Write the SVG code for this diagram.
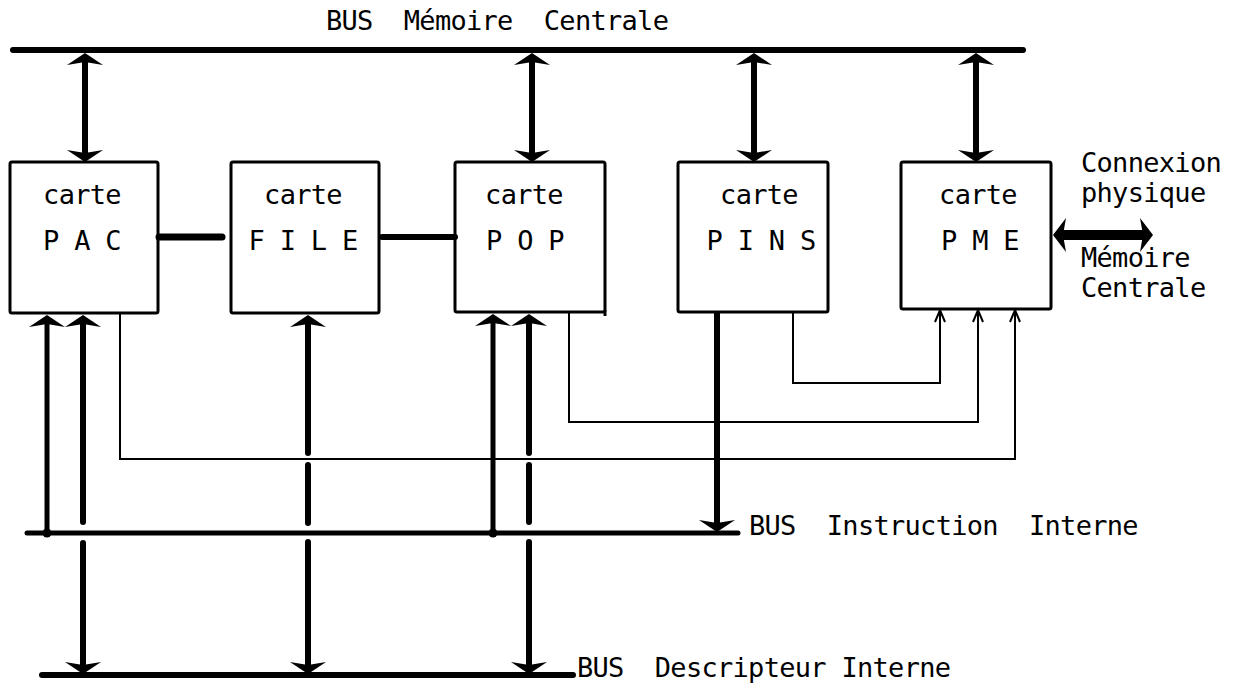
<svg xmlns="http://www.w3.org/2000/svg" xmlns:xlink="http://www.w3.org/1999/xlink" width="1244" height="683" viewBox="0 0 1244 683">
  <style>
    .t { font-family: "DejaVu Sans Mono", "Liberation Mono", monospace; font-size: 27px; letter-spacing: -0.7px; fill: #000; }
    .box { fill: #fff; stroke: #000; stroke-width: 3; }
    .bus { stroke: #000; stroke-width: 6; stroke-linecap: round; fill: none; }
    .thick { stroke: #000; stroke-width: 6; stroke-linecap: round; fill: none; }
    .thin { stroke: #000; stroke-width: 2; fill: none; }
    .head { fill: #000; }
    .chev { stroke: #000; stroke-width: 2; fill: none; stroke-linejoin: miter; }
  </style>
  <defs>
    <!-- wide flat arrowheads, tip at origin -->
    <path id="up" class="head" d="M0,0 L18,12 L0,9 L-18,12 Z"/>
    <path id="down" class="head" d="M0,0 L18,-12 L0,-9 L-18,-12 Z"/>
    <!-- small open arrowhead for the thin control lines -->
    <path id="chevUp" class="chev" d="M-5,12 L0,0 L5,12"/>
  </defs>

  <!-- bus lines and their labels -->
  <g id="bus-memoire">
    <line class="bus" x1="13" y1="50" x2="1023" y2="50"/>
    <text class="t" x="326" y="30" xml:space="preserve">BUS  Mémoire  Centrale</text>
  </g>
  <g id="bus-instruction">
    <line class="bus" x1="27" y1="533" x2="738" y2="533" style="stroke-width:5"/>
    <text class="t" x="749" y="535" xml:space="preserve">BUS  Instruction  Interne</text>
  </g>
  <g id="bus-descripteur">
    <line class="bus" x1="42" y1="675" x2="573" y2="675"/>
    <text class="t" x="577" y="677" xml:space="preserve">BUS  Descripteur Interne</text>
  </g>

  <!-- cards -->
  <g id="carte-pac">
    <rect class="box" x="10" y="162" width="148" height="151" rx="2"/>
    <text class="t" x="82" y="204" text-anchor="middle">carte</text>
    <text class="t" x="82" y="250" text-anchor="middle">P A C</text>
  </g>
  <g id="carte-file">
    <rect class="box" x="231" y="162" width="148" height="151" rx="2"/>
    <text class="t" x="303" y="204" text-anchor="middle">carte</text>
    <text class="t" x="303" y="250" text-anchor="middle">F I L E</text>
  </g>
  <g id="carte-pop">
    <rect class="box" x="455" y="162" width="150" height="150" rx="2"/>
    <line x1="605" y1="310" x2="605" y2="316" stroke="#000" stroke-width="3"/>
    <text class="t" x="524" y="204" text-anchor="middle">carte</text>
    <text class="t" x="525" y="250" text-anchor="middle">P O P</text>
  </g>
  <g id="carte-pins">
    <rect class="box" x="678" y="162" width="150" height="150" rx="2"/>
    <text class="t" x="759" y="204" text-anchor="middle">carte</text>
    <text class="t" x="761" y="250" text-anchor="middle">P I N S</text>
  </g>
  <g id="carte-pme">
    <rect class="box" x="901" y="162" width="150" height="147" rx="2"/>
    <text class="t" x="978" y="204" text-anchor="middle">carte</text>
    <text class="t" x="980" y="250" text-anchor="middle">P M E</text>
  </g>
  <g id="connexion-label">
    <text class="t" x="1081" y="172">Connexion</text>
    <text class="t" x="1081" y="202">physique</text>
    <text class="t" x="1081" y="267">Mémoire</text>
    <text class="t" x="1081" y="297">Centrale</text>
  </g>

  <g id="connectors">
    <!-- memory bus to cards (double arrows) -->
    <line class="thick" x1="85" y1="60" x2="85" y2="154"/>
    <use xlink:href="#up" x="85" y="53"/>
    <use xlink:href="#down" x="85" y="162"/>
    <line class="thick" x1="532" y1="60" x2="532" y2="154"/>
    <use xlink:href="#up" x="532" y="53"/>
    <use xlink:href="#down" x="532" y="162"/>
    <line class="thick" x1="754" y1="60" x2="754" y2="154"/>
    <use xlink:href="#up" x="754" y="53"/>
    <use xlink:href="#down" x="754" y="162"/>
    <line class="thick" x1="976" y1="60" x2="976" y2="154"/>
    <use xlink:href="#up" x="976" y="53"/>
    <use xlink:href="#down" x="976" y="162"/>

    <!-- links between cards -->
    <line class="thick" x1="159" y1="237" x2="222" y2="237" style="stroke-width:7"/>
    <line class="thick" x1="382" y1="237" x2="455" y2="237"/>

    <!-- physical memory link -->
    <line x1="1060" y1="235" x2="1146" y2="235" stroke="#000" stroke-width="10"/>
    <path class="head" d="M1053,235 L1066,218 L1063,235 L1066,252 Z"/>
    <path class="head" d="M1153,235 L1140,218 L1143,235 L1140,252 Z"/>

    <!-- thin control lines to PME -->
    <polyline class="thin" points="120,313 120,459 1015,459 1015,311"/>
    <use xlink:href="#chevUp" x="1015" y="310"/>
    <polyline class="thin" points="569,312 569,422 978,422 978,311"/>
    <use xlink:href="#chevUp" x="978" y="310"/>
    <polyline class="thin" points="793,312 793,383 940,383 940,311"/>
    <use xlink:href="#chevUp" x="940" y="310"/>

    <!-- PAC to buses -->
    <line class="thick" x1="47" y1="324" x2="47" y2="533" style="stroke-width:5"/>
    <use xlink:href="#up" x="47" y="315"/>
    <circle cx="47" cy="533" r="4.5"/>
    <line class="thick" x1="83" y1="324" x2="83" y2="522"/>
    <line class="thick" x1="83" y1="543" x2="83" y2="665"/>
    <use xlink:href="#up" x="83" y="315"/>
    <use xlink:href="#down" x="83" y="674"/>

    <!-- FILE to descriptor bus -->
    <line class="thick" x1="308" y1="324" x2="308" y2="453"/>
    <line class="thick" x1="308" y1="465" x2="308" y2="523"/>
    <line class="thick" x1="308" y1="542" x2="308" y2="665"/>
    <use xlink:href="#up" x="308" y="315"/>
    <use xlink:href="#down" x="308" y="674"/>

    <!-- POP to buses -->
    <line class="thick" x1="493" y1="324" x2="493" y2="533" style="stroke-width:5"/>
    <use xlink:href="#up" x="493" y="314"/>
    <circle cx="493" cy="533" r="4.5"/>
    <line class="thick" x1="529" y1="324" x2="529" y2="453"/>
    <line class="thick" x1="529" y1="465" x2="529" y2="522"/>
    <line class="thick" x1="529" y1="542" x2="529" y2="665"/>
    <use xlink:href="#up" x="529" y="314"/>
    <use xlink:href="#down" x="529" y="674"/>

    <!-- PINS to instruction bus -->
    <line class="thick" x1="717" y1="312" x2="717" y2="524" style="stroke-linecap:butt"/>
    <use xlink:href="#down" x="717" y="532"/>
  </g>
</svg>
